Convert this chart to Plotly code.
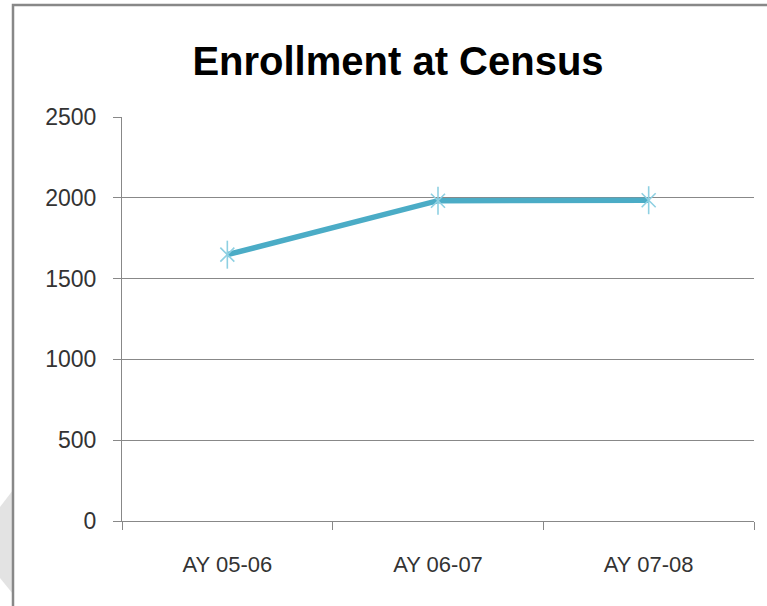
import plotly.graph_objects as go

categories = ["AY 05-06", "AY 06-07", "AY 07-08"]
enrollment = [1648, 1982, 1985]
y_ticks = [0, 500, 1000, 1500, 2000, 2500]

W, H = 767, 606
L, R, T, B = 122, 754, 117, 521

def px(x):
    return (x - L) / (R - L)

def py(y):
    return (B - y) / (B - T)

MARK = "#8ED0E2"

fig = go.Figure()
fig.add_trace(go.Scatter(
    x=categories, y=enrollment, mode="lines+markers",
    line=dict(color="#4BACC6", width=5.5),
    marker=dict(symbol="x-thin-open", size=14, color=MARK, line=dict(color=MARK, width=1.6)),
    showlegend=False, hoverinfo="x+y"))
fig.add_trace(go.Scatter(
    x=categories, y=enrollment, mode="markers",
    marker=dict(symbol="line-ns-open", size=20, color=MARK, line=dict(color=MARK, width=1.6)),
    showlegend=False, hoverinfo="skip"))

font_family = "Liberation Sans, Arial, sans-serif"

fig.update_layout(
    width=W, height=H,
    margin=dict(l=L, r=W - R, t=T, b=H - B),
    paper_bgcolor="white", plot_bgcolor="white",
    title=dict(text="<b>Enrollment at Census</b>", x=398 / W, xref="container", xanchor="center",
               y=1 - 61 / H, yref="container", yanchor="middle",
               font=dict(family=font_family, size=40, color="#000000")),
    xaxis=dict(type="category", range=[-0.5, 2.5], tickson="boundaries",
               ticks="outside", ticklen=8, tickcolor="#888888", tickwidth=1,
               showline=True, linecolor="#888888", linewidth=1,
               showgrid=False, zeroline=False,
               tickfont=dict(family=font_family, size=22, color="#333333"),
               ticklabelstandoff=24),
    yaxis=dict(range=[0, 2500], tickvals=y_ticks, ticktext=[str(v) for v in y_ticks],
               ticks="outside", ticklen=8, tickcolor="#888888", tickwidth=1,
               showline=True, linecolor="#888888", linewidth=1,
               showgrid=True, gridcolor="#888888", gridwidth=1, zeroline=False,
               tickfont=dict(family=font_family, size=23, color="#333333"),
               ticklabelstandoff=12),
    shapes=[
        dict(type="path", xref="paper", yref="paper",
             path=f"M {px(13)},{py(490)} L {px(0)},{py(507)} L {px(0)},{py(578)} L {px(13)},{py(594)} Z",
             fillcolor="#E3E3E3", line=dict(width=0), layer="below"),
        dict(type="rect", xref="paper", yref="paper",
             x0=px(13), y0=py(900), x1=px(1200), y1=py(5),
             line=dict(color="#888888", width=2.5), fillcolor="rgba(0,0,0,0)"),
    ],
)

fig.write_html("out.html",
               config={"displayModeBar": False},
               post_script="document.body.style.margin='0';document.body.style.overflow='hidden';")
